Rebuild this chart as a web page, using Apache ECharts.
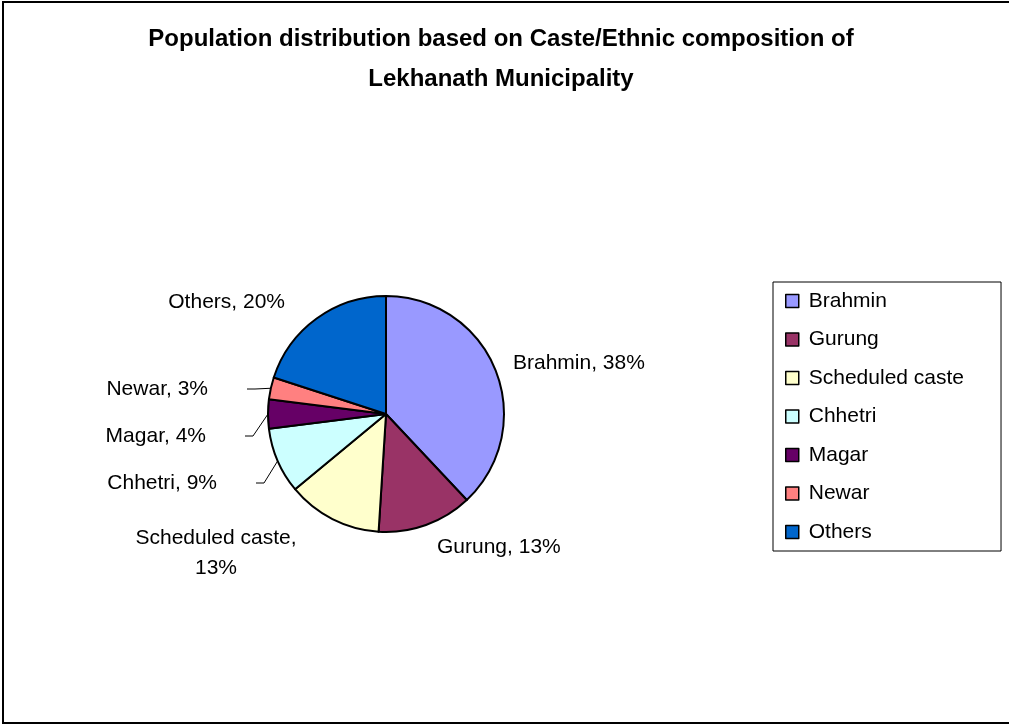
<!DOCTYPE html>
<html>
<head>
<meta charset="utf-8">
<script src="https://cdn.jsdelivr.net/npm/echarts@6/dist/echarts.min.js"></script>
<style>
  html, body { margin: 0; padding: 0; background: #fff; }
  #chart { width: 1009px; height: 726px; }
</style>
</head>
<body>
<div id="chart"></div>
<script>
var groups = ['Brahmin', 'Gurung', 'Scheduled caste', 'Chhetri', 'Magar', 'Newar', 'Others'];
var shares = [38, 13, 13, 9, 4, 3, 20];
var colors = ['#9999FF', '#993366', '#FFFFCC', '#CCFFFF', '#660066', '#FF8080', '#0066CC'];

// where excel left each data label: [x, y, align]
var labelSpots = {
    'Brahmin': [513, 363, 'left'],
    'Gurung': [437, 547, 'left'],
    'Scheduled caste': [216, 553, 'center'],
    'Chhetri': [256, 483, 'right'],
    'Magar': [245, 436, 'right'],
    'Newar': [247, 389, 'right'],
    'Others': [285, 302, 'right']
};
// small slices get leader lines, with a gap before the text
var leaderFor = { 'Chhetri': true, 'Magar': true, 'Newar': true };

var font = "'Liberation Sans', Arial, sans-serif";

var chart = echarts.init(document.getElementById('chart'));

var pieData = groups.map(function (name, i) {
    var item = { name: name, value: shares[i], itemStyle: { color: colors[i] } };
    if (leaderFor[name]) {
        item.labelLine = { show: true };
        item.label = { padding: [0, 39, 0, 0] };
    }
    return item;
});

var option = {
    animation: false,
    backgroundColor: '#fff',
    title: {
        text: 'Population distribution based on Caste/Ethnic composition of\nLekhanath Municipality',
        left: 496,
        top: 14,
        textAlign: 'center',
        textStyle: {
            fontFamily: font,
            fontSize: 24,
            fontWeight: 'bold',
            color: '#000',
            lineHeight: 40
        }
    },
    legend: {
        orient: 'vertical',
        left: 773,
        top: 282,
        padding: [7, 37, 7, 12],
        itemGap: 14.5,
        itemWidth: 13,
        itemHeight: 13,
        itemTextGap: 11,
        icon: 'rect',
        borderColor: '#000',
        borderWidth: 1,
        borderRadius: 0,
        itemStyle: { borderColor: '#000', borderWidth: 1.5 },
        textStyle: {
            fontFamily: font,
            fontSize: 21,
            color: '#000',
            lineHeight: 24,
            padding: [0, 0, 0, 5]
        },
        data: groups
    },
    graphic: [{
        type: 'rect',
        shape: { x: 3, y: 2, width: 1020, height: 721 },
        style: { fill: 'none', stroke: '#000', lineWidth: 2 },
        silent: true
    }],
    series: [{
        type: 'pie',
        center: [386, 414],
        radius: 118,
        startAngle: 90,
        clockwise: true,
        avoidLabelOverlap: false,
        itemStyle: { borderColor: '#000', borderWidth: 2 },
        emphasis: { disabled: true },
        label: {
            show: true,
            position: 'outside',
            fontFamily: font,
            fontSize: 21,
            color: '#000',
            lineHeight: 30,
            align: 'center',
            formatter: function (p) {
                var sep = p.name.length > 10 ? ',\n' : ', ';
                return p.name + sep + Math.round(p.percent) + '%';
            }
        },
        labelLine: {
            show: false,
            length: 8,
            length2: 8,
            smooth: false,
            lineStyle: { color: '#000', width: 1 }
        },
        labelLayout: function (params) {
            var spot = labelSpots[groups[params.dataIndex]];
            return { x: spot[0], y: spot[1], align: spot[2], verticalAlign: 'middle' };
        },
        data: pieData
    }]
};

chart.setOption(option);
</script>
</body>
</html>
